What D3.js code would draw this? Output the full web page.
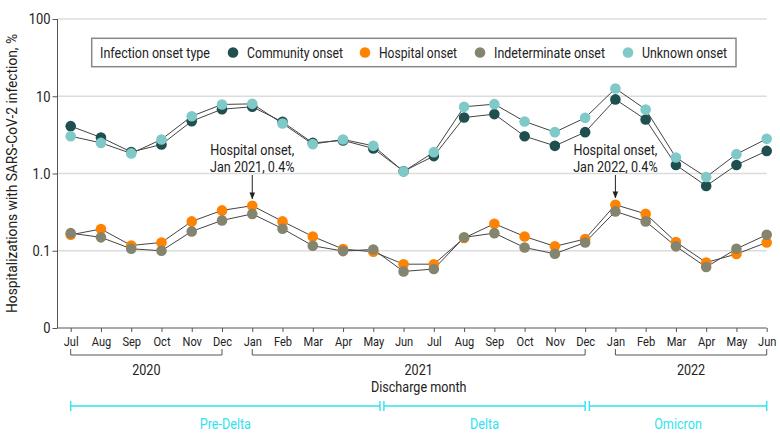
<!DOCTYPE html>
<html><head><meta charset="utf-8">
<script src="https://cdn.jsdelivr.net/npm/d3@7"></script>
<style>
body{margin:0;background:#fff;}
text{font-family:Roboto,"Liberation Sans",sans-serif;fill:#222;}
</style></head>
<body><svg id="c" width="780" height="443"></svg>
<script>
const months = ["Jul","Aug","Sep","Oct","Nov","Dec","Jan","Feb","Mar","Apr","May","Jun",
                "Jul","Aug","Sep","Oct","Nov","Dec","Jan","Feb","Mar","Apr","May","Jun"];
const community = [4.1,2.93,1.9,2.37,4.76,6.8,7.3,4.66,2.49,2.68,2.11,1.07,1.68,5.3,5.87,3.04,2.28,3.43,9.1,5.0,1.29,0.69,1.29,1.96];
const hospital = [0.161,0.191,0.117,0.128,0.24,0.333,0.383,0.24,0.153,0.105,0.097,0.067,0.067,0.146,0.224,0.153,0.114,0.142,0.394,0.30,0.13,0.0705,0.0906,0.128];
const indeterminate = [0.169,0.149,0.106,0.100,0.178,0.247,0.30,0.193,0.116,0.099,0.104,0.054,0.058,0.149,0.169,0.110,0.0914,0.128,0.323,0.24,0.114,0.0615,0.106,0.161];
const unknown = [3.04,2.49,1.82,2.76,5.52,7.83,7.97,4.44,2.4,2.76,2.28,1.06,1.89,7.3,7.9,4.72,3.43,5.25,12.6,6.75,1.61,0.90,1.78,2.81];
const yTicks = [0.01,0.1,1,10,100];
const yTickLabels = ["0","0.1","1.0","10","100"];
const years = [{label:"2020",from:0,to:5},{label:"2021",from:6,to:17},{label:"2022",from:18,to:23}];
const periods = [{label:"Pre-Delta",from:0,to:10.22},{label:"Delta",from:10.35,to:17.0},{label:"Omicron",from:17.14,to:23}];
const seriesNames = ["Community onset","Hospital onset","Indeterminate onset","Unknown onset"];
const seriesColors = ["#1f4f4f","#ff8300","#85846f","#80c9c9"];
const annotations = [{idx:6,lines:["Hospital onset,","Jan 2021, 0.4%"]},{idx:18,lines:["Hospital onset,","Jan 2022, 0.4%"]}];

const svg = d3.select("#c");
const x = d3.scaleLinear().domain([0,23]).range([70.7,766.7]);
const y = d3.scaleLog().domain([0.01,100]).range([328,19]);
const axisLeft = 57.5;
const SQ = 0.84; // horizontal condensing factor for text
function condense(sel, f){
  sel.each(function(){
    const w = this.getComputedTextLength();
    d3.select(this).attr("textLength", w*(f||SQ)).attr("lengthAdjust","spacingAndGlyphs");
  });
  return sel;
}

svg.append("g").selectAll("line").data(yTicks.filter(d=>d>0.01)).join("line")
  .attr("x1",axisLeft).attr("x2",766.7).attr("y1",d=>y(d)).attr("y2",d=>y(d))
  .attr("stroke","#dcdcdc").attr("stroke-width",1.3);

const ya = svg.append("g").attr("transform",`translate(${axisLeft},0)`)
  .call(d3.axisLeft(y).tickValues(yTicks).tickFormat((d,i)=>yTickLabels[i]).tickSize(5).tickPadding(2));
ya.select(".domain").attr("stroke","#555").attr("d",`M0,${y(100)}V${y(0.01)}`);
ya.selectAll(".tick line").attr("stroke","#555");
ya.selectAll(".tick text").attr("font-size",15).attr("fill","#222").style("font-family","Roboto,sans-serif");
condense(ya.selectAll(".tick text"), 0.86);

const xa = svg.append("g").attr("transform",`translate(0,${y(0.01)})`)
  .call(d3.axisBottom(x).tickValues(d3.range(24)).tickFormat(i=>months[i]).tickSize(4).tickPadding(4));
xa.select(".domain").attr("stroke","#555").attr("d",`M${axisLeft},0H${x(23)}`);
xa.selectAll(".tick line").attr("stroke","#555");
xa.selectAll(".tick text").attr("font-size",13.5).attr("fill","#222").style("font-family","Roboto,sans-serif");
condense(xa.selectAll(".tick text"), 0.82);

const yb = svg.append("g");
years.forEach(yr=>{
  yb.append("path").attr("d",`M${x(yr.from)},349V355H${x(yr.to)}V349`).attr("fill","none").attr("stroke","#555").attr("stroke-width",1);
  condense(yb.append("text").attr("x",(x(yr.from)+x(yr.to))/2).attr("y",375).attr("text-anchor","middle").attr("font-size",15).text(yr.label));
});
condense(svg.append("text").attr("x",(x(0)+x(23))/2).attr("y",392).attr("text-anchor","middle").attr("font-size",15).text("Discharge month"));

const pg = svg.append("g");
periods.forEach(p=>{
  const x1=x(p.from), x2=x(p.to);
  pg.append("path").attr("d",`M${x1},401V411M${x1},406H${x2}M${x2},401V411`).attr("fill","none").attr("stroke","#2fe3f0").attr("stroke-width",1.4);
  condense(pg.append("text").attr("x",(x1+x2)/2).attr("y",429).attr("text-anchor","middle").attr("font-size",15).style("fill","#2fe3f0").text(p.label));
});

const yt = svg.append("text").attr("transform",`translate(17,${(y(100)+y(0.01))/2+0}) rotate(-90)`).attr("text-anchor","middle")
  .attr("font-size",15).text("Hospitalizations with SARS-CoV-2 infection, %");
yt.attr("textLength",279).attr("lengthAdjust","spacingAndGlyphs");

const allSeries = [community,hospital,indeterminate,unknown];
const line = d3.line().x((d,i)=>x(i)).y(d=>y(d));
const lineG = svg.append("g");
allSeries.forEach(s=>{
  lineG.append("path").attr("d",line(s)).attr("fill","none").attr("stroke","#444").attr("stroke-width",1);
});
const dotG = svg.append("g");
[1,2,0,3].forEach(k=>{
  dotG.append("g").selectAll("circle").data(allSeries[k]).join("circle")
    .attr("cx",(d,i)=>x(i)).attr("cy",d=>y(d)).attr("r",5.3).attr("fill",seriesColors[k]);
});

svg.append("defs").append("marker").attr("id","arr").attr("viewBox","0 0 10 10").attr("refX",9).attr("refY",5)
  .attr("markerWidth",7).attr("markerHeight",7).attr("orient","auto")
  .append("path").attr("d","M0,1L10,5L0,9Z").attr("fill","#222");
annotations.forEach(a=>{
  const ax = x(a.idx);
  a.lines.forEach((t,j)=>{
    condense(svg.append("text").attr("x",ax).attr("y",155+j*17).attr("text-anchor","middle").attr("font-size",15).text(t));
  });
  svg.append("line").attr("x1",ax).attr("x2",ax).attr("y1",175).attr("y2",y(hospital[a.idx])-7)
    .attr("stroke","#222").attr("stroke-width",1).attr("marker-end","url(#arr)");
});

const lg = svg.append("g");
lg.append("rect").attr("x",91.7).attr("y",38.3).attr("width",736-91.7).attr("height",28.4)
  .attr("fill","#fff").attr("stroke","#888").attr("stroke-width",1.5);
lg.append("text").attr("x",100).attr("y",58).attr("font-size",15).text("Infection onset type")
  .attr("textLength",110).attr("lengthAdjust","spacingAndGlyphs");
const legX = [233,365,480,628];
const legW = [96,78,111,85];
seriesNames.forEach((n,k)=>{
  lg.append("circle").attr("cx",legX[k]).attr("cy",52.5).attr("r",5.3).attr("fill",seriesColors[k]);
  lg.append("text").attr("x",legX[k]+14).attr("y",58).attr("font-size",15).text(n)
    .attr("textLength",legW[k]).attr("lengthAdjust","spacingAndGlyphs");
});
</script></body></html>
